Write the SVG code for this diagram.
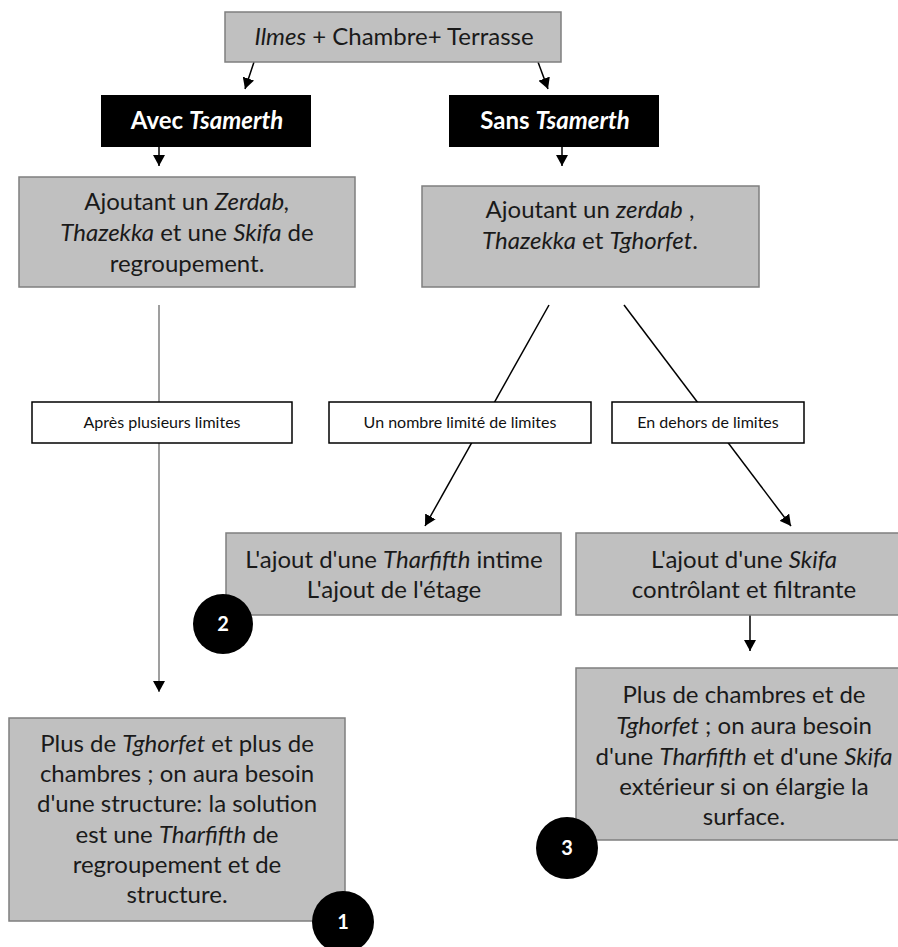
<svg xmlns="http://www.w3.org/2000/svg" width="898" height="947" viewBox="0 0 898 947">
<style>
.box{fill:#c0c0c0;stroke:#7f7f7f;stroke-width:1.5}
.blk{fill:#000}
.lbl{fill:#fff;stroke:#000;stroke-width:1.5}
.t{font-family:Lato,"Liberation Sans",sans-serif;font-size:24px;fill:#1a1a1a;text-anchor:middle}
.tw{font-family:Lato,"Liberation Sans",sans-serif;font-size:24px;font-weight:bold;fill:#fff;text-anchor:middle}
.tl{font-family:Lato,"Liberation Sans",sans-serif;font-size:16px;fill:#111;text-anchor:middle}
.tn{font-family:Lato,"Liberation Sans",sans-serif;font-size:20px;font-weight:bold;fill:#fff;text-anchor:middle}
.i{font-style:italic}
.c{stroke:#000;stroke-width:1.5;fill:none}
.cg{stroke:#7f7f7f;stroke-width:1.5;fill:none}
</style>
<defs>
<marker id="ah" markerUnits="userSpaceOnUse" markerWidth="12" markerHeight="12" refX="11" refY="6" orient="auto">
<path d="M0,0 L11,6 L0,12 z" fill="#000"/>
</marker>
</defs>
<g id="connectors">
<line class="c" x1="254" y1="62" x2="245" y2="89" marker-end="url(#ah)"/>
<line class="c" x1="538" y1="62" x2="548" y2="89" marker-end="url(#ah)"/>
<line class="c" x1="159" y1="147" x2="159" y2="166" marker-end="url(#ah)"/>
<line class="c" x1="562" y1="147" x2="562" y2="166" marker-end="url(#ah)"/>
<line class="cg" x1="159" y1="305" x2="159" y2="692" marker-end="url(#ah)"/>
<line class="c" x1="549" y1="305" x2="425" y2="526" marker-end="url(#ah)"/>
<line class="c" x1="624" y1="305" x2="791" y2="526" marker-end="url(#ah)"/>
<line class="c" x1="750" y1="615" x2="750" y2="651" marker-end="url(#ah)"/>
</g>
<g id="top">
<rect class="box" x="225" y="12" width="336" height="50"/>
<text class="t" x="394" y="45"><tspan class="i">Ilmes</tspan> + Chambre+ Terrasse</text>
</g>
<g id="avec">
<rect class="blk" x="101" y="95" width="210" height="52"/>
<text class="tw" x="207" y="129">Avec <tspan class="i">Tsamerth</tspan></text>
</g>
<g id="sans">
<rect class="blk" x="449" y="95" width="210" height="52"/>
<text class="tw" x="555" y="129">Sans <tspan class="i">Tsamerth</tspan></text>
</g>
<g id="ajout-left">
<rect class="box" x="19" y="177" width="336" height="110"/>
<text class="t" x="187" y="210">Ajoutant un <tspan class="i">Zerdab,</tspan></text>
<text class="t" x="187" y="241"><tspan class="i">Thazekka</tspan> et une <tspan class="i">Skifa</tspan> de</text>
<text class="t" x="187" y="272">regroupement.</text>
</g>
<g id="ajout-right">
<rect class="box" x="422" y="186" width="337" height="101"/>
<text class="t" x="590" y="218">Ajoutant un <tspan class="i">zerdab</tspan> ,</text>
<text class="t" x="590" y="249"><tspan class="i">Thazekka</tspan> et <tspan class="i">Tghorfet</tspan>.</text>
</g>
<g id="label-apres">
<rect class="lbl" x="32" y="402" width="260" height="41"/>
<text class="tl" x="162" y="428">Après plusieurs limites</text>
</g>
<g id="label-nombre">
<rect class="lbl" x="329" y="402" width="262" height="41"/>
<text class="tl" x="460" y="428">Un nombre limité de limites</text>
</g>
<g id="label-dehors">
<rect class="lbl" x="612" y="402" width="192" height="41"/>
<text class="tl" x="708" y="428">En dehors de limites</text>
</g>
<g id="tharfifth-intime">
<rect class="box" x="226" y="533" width="335" height="82"/>
<text class="t" x="394" y="568">L'ajout d'une <tspan class="i">Tharfifth</tspan> intime</text>
<text class="t" x="394" y="598">L'ajout de l'étage</text>
</g>
<g id="skifa">
<rect class="box" x="576" y="533" width="336" height="82"/>
<text class="t" x="744" y="568">L'ajout d'une <tspan class="i">Skifa</tspan></text>
<text class="t" x="744" y="598">contrôlant et filtrante</text>
</g>
<g id="bottom-left">
<rect class="box" x="9" y="718" width="336" height="203"/>
<text class="t" x="177" y="752">Plus de <tspan class="i">Tghorfet</tspan> et plus de</text>
<text class="t" x="177" y="782">chambres ; on aura besoin</text>
<text class="t" x="177" y="812">d'une structure: la solution</text>
<text class="t" x="177" y="843">est une <tspan class="i">Tharfifth</tspan> de</text>
<text class="t" x="177" y="873">regroupement et de</text>
<text class="t" x="177" y="903">structure.</text>
</g>
<g id="bottom-right">
<rect class="box" x="576" y="668" width="336" height="172"/>
<text class="t" x="744" y="703">Plus de chambres et de</text>
<text class="t" x="744" y="734"><tspan class="i">Tghorfet</tspan> ; on aura besoin</text>
<text class="t" x="744" y="765">d'une <tspan class="i">Tharfifth</tspan> et d'une <tspan class="i">Skifa</tspan></text>
<text class="t" x="744" y="795">extérieur si on élargie la</text>
<text class="t" x="744" y="825">surface.</text>
</g>
<g id="badge-1">
<circle cx="343" cy="922" r="31" fill="#000"/>
<text class="tn" x="343" y="929">1</text>
</g>
<g id="badge-2">
<circle cx="223" cy="624" r="30" fill="#000"/>
<text class="tn" x="223" y="631">2</text>
</g>
<g id="badge-3">
<circle cx="567" cy="848" r="31" fill="#000"/>
<text class="tn" x="567" y="855">3</text>
</g>
</svg>
